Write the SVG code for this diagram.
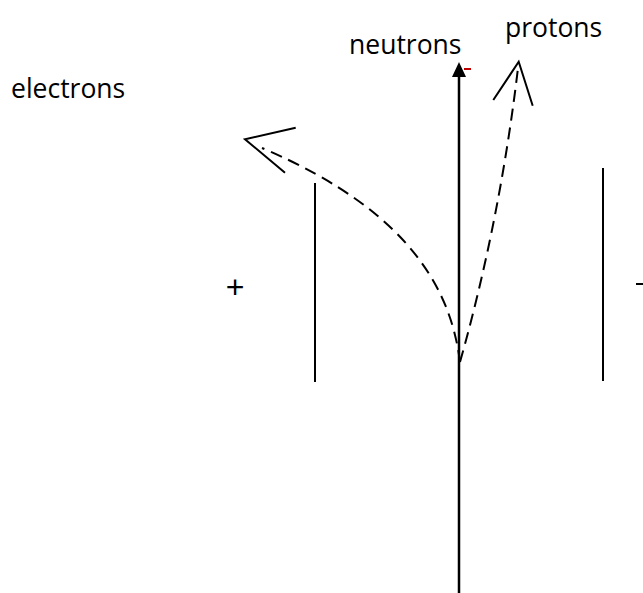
<svg xmlns="http://www.w3.org/2000/svg" width="643" height="593" viewBox="0 0 643 593">
<style>
.t{font-family:"Open Sans","Liberation Sans",sans-serif;font-size:26.5px;fill:#000}
.ln{stroke:#000;stroke-width:2;fill:none}
.d{stroke:#000;stroke-width:2;fill:none;stroke-dasharray:12 7}
</style>
<rect width="643" height="593" fill="#fff"/>
<g id="plate-left"><line class="ln" x1="315" y1="183" x2="315" y2="382"/><text x="235" y="298" text-anchor="middle" font-family="Liberation Sans, Arial, sans-serif" font-size="32">+</text></g>
<g id="plate-right"><line class="ln" x1="603" y1="168" x2="603" y2="381"/><line x1="636" y1="284" x2="643" y2="284" stroke="#000" stroke-width="2"/></g>
<g id="neutrons"><text class="t" x="349" y="54">neutrons</text><line x1="464" y1="69" x2="471" y2="69" stroke="#c00000" stroke-width="2"/></g>
<g id="protons"><text class="t" x="505" y="37">protons</text></g>
<g id="electrons"><text class="t" x="11" y="98">electrons</text></g>
<g id="connectors">
<line x1="459" y1="593" x2="459" y2="76" stroke="#000" stroke-width="2.5"/>
<polygon points="459,62 466,77 452,77" fill="#000"/>
<path class="d" d="M460,362 C452,300 420,215 262,148"/>
<path class="d" d="M460,362 Q500,220 518,68"/>
<polyline class="ln" points="295.7,127.7 245,139.3 285,172.7"/>
<polyline class="ln" points="493.3,100 518.7,61.7 532.7,105.7"/>
</g>
</svg>
